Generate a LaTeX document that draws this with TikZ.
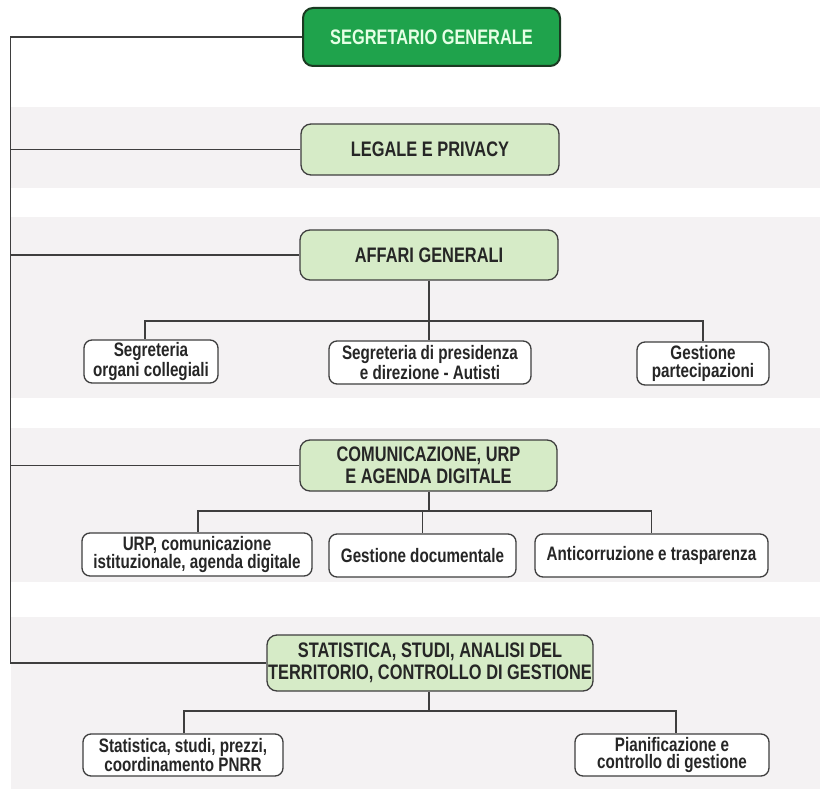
\documentclass[tikz,border=0pt]{standalone}
\usepackage{fontspec}
\setmainfont{Liberation Sans}[FakeStretch=0.78]
\definecolor{band}{HTML}{F4F2F3}
\definecolor{topgreen}{HTML}{1FA34C}
\definecolor{topedge}{HTML}{1B3A22}
\definecolor{lightgreen}{HTML}{D6EBC7}
\definecolor{edge}{HTML}{3E3E3E}
\definecolor{txt}{HTML}{262626}
\tikzset{
  hdr/.style={draw=edge, line width=1.3pt, rounded corners=10pt, fill=lightgreen,
    text=txt, font=\bfseries\fontsize{21}{22.5}\selectfont, align=center,
    inner sep=0pt},
  topbox/.style={draw=topedge, line width=2pt, rounded corners=10pt, fill=topgreen,
    text=white!90!green, font=\bfseries\fontsize{21}{22.5}\selectfont, align=center,
    inner sep=0pt},
  sub/.style={draw=edge, line width=1.3pt, rounded corners=8pt, fill=white,
    text=txt, font=\bfseries\fontsize{19.5}{17.8}\selectfont, align=center,
    inner sep=0pt},
  conn/.style={draw=edge, line width=1.5pt},
  bandbox/.style={fill=band, draw=none}
}
\begin{document}
\begin{tikzpicture}[x=1pt,y=-1pt]
\useasboundingbox (0,0) rectangle (820,789);
\fill[white] (0,0) rectangle (820,789);
% bands
\path[bandbox] (11,107) rectangle (820,188);
\path[bandbox] (11,217) rectangle (820,398);
\path[bandbox] (11,428) rectangle (820,582);
\path[bandbox] (11,617) rectangle (820,789);

% headers
\node[topbox, minimum width=257pt, minimum height=58pt] (sg) at (431.5,37) {SEGRETARIO GENERALE};
\node[hdr, minimum width=258pt, minimum height=51pt] (leg) at (430,149.5) {LEGALE E PRIVACY};
\node[hdr, minimum width=258pt, minimum height=50pt] (aff) at (429,255) {AFFARI GENERALI};
\node[hdr, minimum width=257pt, minimum height=51pt] (com) at (428.5,465.5) {COMUNICAZIONE, URP\\E AGENDA DIGITALE};
\node[hdr, minimum width=326pt, minimum height=56pt] (sta) at (430,663) {STATISTICA, STUDI, ANALISI DEL\\TERRITORIO, CONTROLLO DI GESTIONE};

% sub boxes
\node[sub, minimum width=134pt, minimum height=43pt] (c1) at (151,361.5) {Segreteria\\organi collegiali};
\node[sub, minimum width=202pt, minimum height=43pt] (c2) at (430,362.5) {Segreteria di presidenza\\e direzione - Autisti};
\node[sub, minimum width=132pt, minimum height=43pt] (c3) at (703,363.5) {Gestione\\partecipazioni};

\node[sub, minimum width=230pt, minimum height=43pt] (d1) at (197,554.5) {URP, comunicazione\\istituzionale, agenda digitale};
\node[sub, minimum width=187pt, minimum height=43pt] (d2) at (422.5,555.5) {Gestione documentale};
\node[sub, minimum width=233pt, minimum height=43pt] (d3) at (651.5,555.5) {Anticorruzione e trasparenza};

\node[sub, minimum width=200pt, minimum height=42pt] (e1) at (183,755) {Statistica, studi, prezzi,\\coordinamento PNRR};
\node[sub, minimum width=194pt, minimum height=42pt] (e2) at (672,755) {Pianificazione e\\controllo di gestione};

% left spine
\coordinate (lt) at (10.5,37);
\coordinate (lb) at (10.5,663);
\draw[conn, line width=1.8pt] (sg.west) -- (lt) -- (lb) -- (sta.west);
\draw[conn] (leg.west) -- (leg.west -| lt);
\draw[conn] (aff.west) -- (aff.west -| lt);
\draw[conn] (com.west) -- (com.west -| lt);

% affari tree
\coordinate (ab) at (429,321);
\draw[conn] (aff.south) -- (ab);
\draw[conn] (ab) -| ([xshift=-6pt]c1.north);
\draw[conn] (ab) -| (c3.north);
\draw[conn] (ab) -- (c2.north -| ab);

% comunicazione tree
\coordinate (cb) at (429,511);
\draw[conn] (com.south -| cb) -- (cb);
\draw[conn] (cb) -| ([xshift=1pt]d1.north);
\draw[conn] (cb) -| (d3.north);
\draw[conn] (cb) -| (d2.north);

% statistica tree
\coordinate (sb) at (429,711);
\draw[conn] (sta.south -| sb) -- (sb);
\draw[conn] (sb) -| ([xshift=1pt]e1.north);
\draw[conn] (sb) -| ([xshift=4pt]e2.north);
\end{tikzpicture}
\end{document}
